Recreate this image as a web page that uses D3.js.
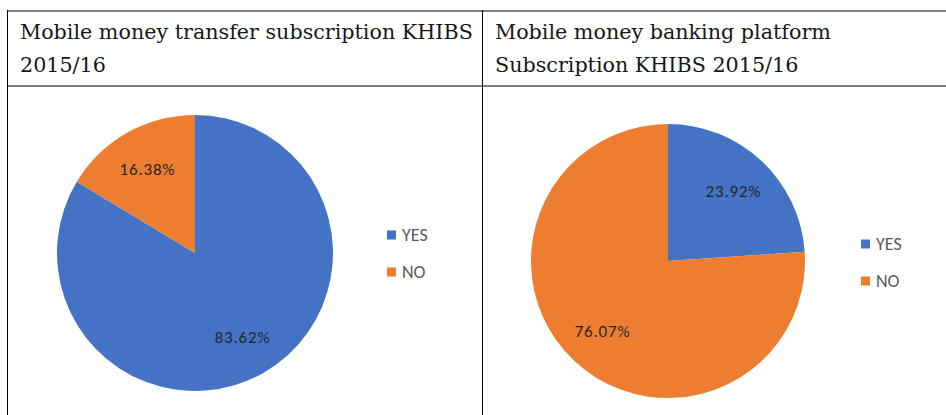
<!DOCTYPE html>
<html>
<head>
<meta charset="utf-8">
<script src="https://cdn.jsdelivr.net/npm/d3@7/dist/d3.min.js"></script>
<style>
  html, body { margin: 0; padding: 0; background: #fff; }
  svg { display: block; }
</style>
</head>
<body>
<svg id="chart" width="946" height="415"></svg>
<script>
// Subscription shares from the KHIBS 2015/16 survey
const categories = ["YES", "NO"];
const transferValues = [83.62, 16.38];
const bankingValues = [23.92, 76.07];
const panelTitles = [
  ["Mobile money transfer subscription KHIBS", "2015/16"],
  ["Mobile money banking platform", "Subscription KHIBS 2015/16"]
];

const W = 946, H = 415;
const svg = d3.select("#chart");

const color = d3.scaleOrdinal().domain(categories).range(["#4472C4", "#ED7D31"]);

// Table frame
const tableTop = 11, headerBottom = 86, leftX = 7.5, midX = 482.5;
svg.append("line").attr("x1", leftX).attr("x2", W).attr("y1", tableTop).attr("y2", tableTop)
  .attr("stroke", "#808080").attr("stroke-width", 2);
svg.append("line").attr("x1", leftX).attr("x2", W).attr("y1", headerBottom).attr("y2", headerBottom)
  .attr("stroke", "#808080").attr("stroke-width", 2);
[leftX, midX].forEach(x => {
  svg.append("line").attr("x1", x).attr("x2", x).attr("y1", tableTop - 1).attr("y2", H)
    .attr("stroke", "#000").attr("stroke-width", 1);
});

// Header cell texts; font size chosen so the longest first line fills its cell
const titleX = [20, 495];
const titleFont = "'DejaVu Serif', 'Liberation Serif', serif";
const probe = svg.append("text").attr("font-family", titleFont).attr("font-size", 20)
  .text(panelTitles[0][0]);
const probeW = probe.node().getComputedTextLength();
probe.remove();
const titleSize = 20 * 453 / probeW;

panelTitles.forEach((lines, i) => {
  const t = svg.append("text")
    .attr("x", titleX[i]).attr("y", 39)
    .attr("font-family", titleFont)
    .attr("font-size", titleSize)
    .attr("fill", "#161616");
  lines.forEach((ln, j) => {
    t.append("tspan").attr("x", titleX[i]).attr("dy", j === 0 ? 0 : 33).text(ln);
  });
});

// Pie panels
const panels = [
  { values: transferValues, cx: 195, cy: 253, r: 138, legendX: 387, legendY: 235 },
  { values: bankingValues, cx: 668, cy: 261, r: 137, legendX: 861, legendY: 244 }
];

const pie = d3.pie().sort(null).value(d => d.v);
const labelFont = "Carlito, 'Liberation Sans', 'Open Sans', sans-serif";

panels.forEach(p => {
  const data = categories.map((c, i) => ({ c, v: p.values[i] }));
  const arcs = pie(data);
  const arc = d3.arc().innerRadius(0).outerRadius(p.r);
  const labelArc = d3.arc().innerRadius(p.r * 0.7).outerRadius(p.r * 0.7);
  const g = svg.append("g").attr("transform", `translate(${p.cx},${p.cy})`);

  g.selectAll("path").data(arcs).join("path")
    .attr("d", arc)
    .attr("fill", d => color(d.data.c));

  g.selectAll("text").data(arcs).join("text")
    .attr("transform", d => `translate(${labelArc.centroid(d)})`)
    .attr("text-anchor", "middle")
    .attr("dy", "0.35em")
    .attr("font-family", labelFont)
    .attr("font-size", 17)
    .attr("letter-spacing", 0.8)
    .attr("fill", "#262626")
    .text(d => d.data.v.toFixed(2) + "%");

  // Legend
  const lg = svg.append("g").attr("transform", `translate(${p.legendX},${p.legendY})`);
  const items = lg.selectAll("g").data(categories).join("g")
    .attr("transform", (d, i) => `translate(0,${i * 37})`);
  items.append("rect").attr("x", 0).attr("y", -4.5).attr("width", 9).attr("height", 9)
    .attr("fill", d => color(d));
  items.append("text").attr("x", 15).attr("y", 0).attr("dy", "0.35em")
    .attr("font-family", labelFont)
    .attr("font-size", 18)
    .attr("fill", "#595959")
    .text(d => d);
});
</script>
</body>
</html>
